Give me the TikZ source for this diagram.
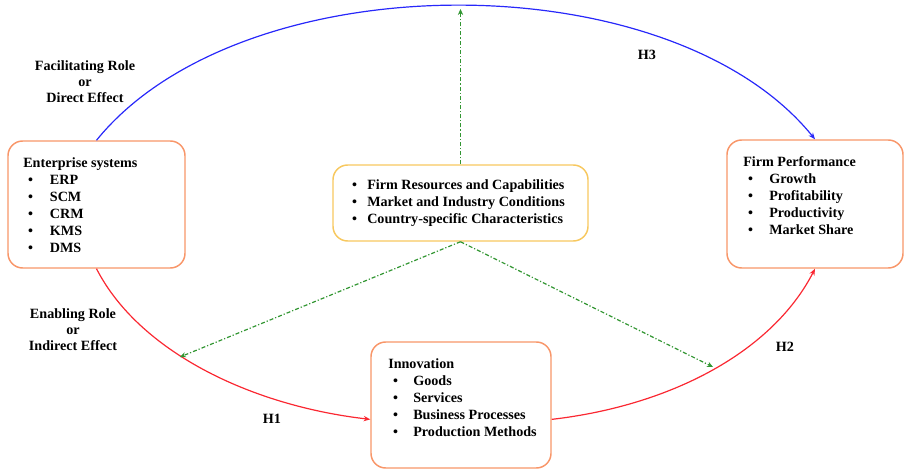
\documentclass[tikz,border=0pt]{standalone}
\usepackage{fontspec}
\setmainfont{Liberation Serif}
\usetikzlibrary{arrows.meta,fit}
\definecolor{boxor}{RGB}{248,150,105}
\definecolor{boxyl}{RGB}{247,200,95}
\definecolor{lblue}{RGB}{40,40,250}
\definecolor{lred}{RGB}{250,40,50}
\definecolor{lgreen}{RGB}{50,150,50}
\newcommand\bitem[2][20pt]{\makebox[#1][l]{\hspace*{3.6pt}\textbullet}#2}
\begin{document}
\begin{tikzpicture}[x=0.75pt,y=-0.75pt,
  obox/.style={draw=boxor, line width=1.1pt, rounded corners=11pt, inner sep=0pt},
  ybox/.style={draw=boxyl, line width=1.1pt, rounded corners=11pt, inner sep=0pt},
  txt/.style={anchor=north west, inner sep=0pt, align=left, font=\bfseries\fontsize{10.6pt}{12.75pt}\selectfont},
  lbl/.style={anchor=north, inner sep=0pt, align=center, font=\bfseries\fontsize{10.6pt}{12pt}\selectfont},
  hlbl/.style={inner sep=0pt, font=\bfseries\fontsize{10.6pt}{12pt}\selectfont},
  bluearr/.style={draw=lblue, line width=0.9pt, -{Stealth[length=5pt,width=4pt]}},
  redarr/.style={draw=lred, line width=0.9pt, -{Stealth[length=5pt,width=4pt]}},
  greenarr/.style={draw=lgreen, line width=0.9pt, dash pattern=on 3pt off 1.5pt on 0.9pt off 1.5pt, -{Stealth[length=4.5pt,width=4pt]}}]
\useasboundingbox (0,0) rectangle (904,470);

% boxes
\node[obox, fit={(8,141) (185,268)}] (es) {};
\node[ybox, fit={(333,165) (588,241)}] (cb) {};
\node[obox, fit={(727,140) (903,268)}] (fp) {};
\node[obox, fit={(371,342) (551,468)}] (inn) {};

% box texts
\node[txt] (est) at (23,157) {Enterprise systems\\ \bitem{ERP}\\ \bitem{SCM}\\ \bitem{CRM}\\ \bitem{KMS}\\ \bitem{DMS}};
\node[txt] (cbt) at (347,179) {\bitem[15pt]{Firm Resources and Capabilities}\\ \bitem[15pt]{Market and Industry Conditions}\\ \bitem[15pt]{Country-specific Characteristics}};
\node[txt] (fpt) at (743,156) {Firm Performance\\ \bitem[19.5pt]{Growth}\\ \bitem[19.5pt]{Profitability}\\ \bitem[19.5pt]{Productivity}\\ \bitem[19.5pt]{Market Share}};
\node[txt] (innt) at (388,358) {Innovation\\ \bitem[18.75pt]{Goods}\\ \bitem[18.75pt]{Services}\\ \bitem[18.75pt]{Business Processes}\\ \bitem[18.75pt]{Production Methods}};

% labels
\node[lbl] (fac) at (85,60) {Facilitating Role\\or\\Direct Effect};
\node[lbl] (ena) at (73,308) {Enabling Role\\or\\Indirect Effect};
\node[hlbl] (h1) at (272,419) {H1};
\node[hlbl] (h2) at (785,347) {H2};
\node[hlbl] (h3) at (647,55) {H3};

% main connectors
\draw[bluearr] (es.north) .. controls +(145,-179) and +(-145,-179) .. (fp.north);
\draw[redarr] (es.south) .. controls +(42,82) and +(-121,-14) .. (inn.189);
\draw[redarr] (inn.-9) .. controls +(121,-14) and +(-42,82) .. (fp.south);

% green moderating arrows
\coordinate (g0) at (460.5,9);
\coordinate (g1) at (180,357);
\coordinate (g2) at (713,367);
\draw[greenarr] (cb.north) -- (g0);
\draw[greenarr] (cb.south) -- (g1);
\draw[greenarr] (cb.south) -- (g2);
\end{tikzpicture}
\end{document}
